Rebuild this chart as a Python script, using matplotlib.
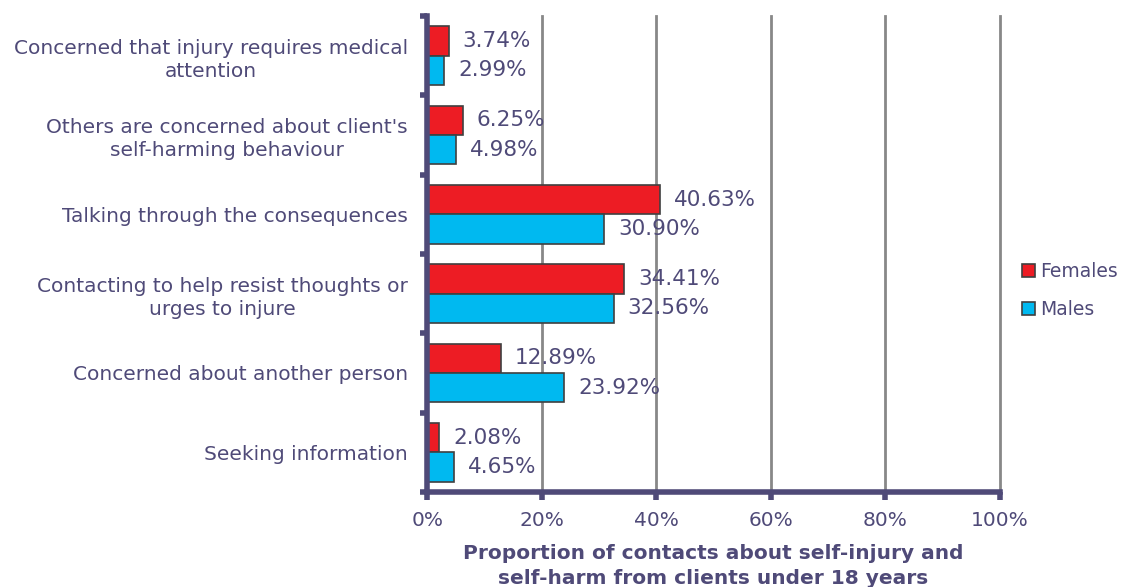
import matplotlib.pyplot as plt
import numpy as np

# Reasons for contact, top to bottom
categories = [
    "Concerned that injury requires medical\nattention",
    "Others are concerned about client's\nself-harming behaviour",
    "Talking through the consequences",
    "Contacting to help resist thoughts or\nurges to injure",
    "Concerned about another person",
    "Seeking information",
]
females = [3.74, 6.25, 40.63, 34.41, 12.89, 2.08]
males = [2.99, 4.98, 30.90, 32.56, 23.92, 4.65]
x_ticks = [0, 20, 40, 60, 80, 100]

TEXT = "#4F4A78"
RED = "#ED1C24"
BLUE = "#00B9F0"
EDGE = "#404040"

plt.rcParams["font.family"] = "DejaVu Sans"

fig = plt.figure(figsize=(11.27, 5.87), dpi=100)
ax = fig.add_axes([0.379, 0.162, 0.508, 0.811])

y = np.arange(len(categories))
h = 0.37
ax.barh(y - h / 2, females, height=h, color=RED, edgecolor=EDGE, linewidth=1.2,
        label="Females", zorder=3)
ax.barh(y + h / 2, males, height=h, color=BLUE, edgecolor=EDGE, linewidth=1.2,
        label="Males", zorder=3)

# value labels just past the end of each bar
for i, (f, m) in enumerate(zip(females, males)):
    ax.annotate(f"{f:.2f}%", (f, i - h / 2), xytext=(10, 0), textcoords="offset points",
                ha="left", va="center", fontsize=15.5, color=TEXT)
    ax.annotate(f"{m:.2f}%", (m, i + h / 2), xytext=(10, 0), textcoords="offset points",
                ha="left", va="center", fontsize=15.5, color=TEXT)

ax.set_xlim(0, 100)
ax.set_ylim(len(categories) - 0.5, -0.5)
ax.set_xticks(x_ticks)
ax.set_xticklabels([f"{t}%" for t in x_ticks], fontsize=14.5, color=TEXT)

# category labels sit between the tick marks at the group boundaries
ax.set_yticks(np.arange(len(categories) + 1) - 0.5)
ax.set_yticklabels([])
ax.set_yticks(y, minor=True)
ax.set_yticklabels(categories, minor=True, fontsize=14.5, color=TEXT,
                   multialignment="center", linespacing=1.3)
ax.tick_params(axis="y", which="minor", length=0, pad=14)
ax.tick_params(axis="y", which="major", length=5, width=4, color=TEXT, direction="out")
ax.tick_params(axis="x", length=6, width=4, color=TEXT, direction="out", pad=8)

ax.grid(axis="x", color="#888888", linewidth=2, zorder=0)
for gl in ax.get_xgridlines():
    gl.set_clip_on(False)
ax.set_axisbelow(True)
for side in ("top", "right"):
    ax.spines[side].set_visible(False)
for side in ("left", "bottom"):
    ax.spines[side].set_color(TEXT)
    ax.spines[side].set_linewidth(4)
    ax.spines[side].set_zorder(4)

ax.set_xlabel("Proportion of contacts about self-injury and\nself-harm from clients under 18 years",
              fontsize=14.5, fontweight="bold", color=TEXT, labelpad=10, linespacing=1.4)

leg = fig.legend(loc="center left", bbox_to_anchor=(0.892, 0.505), frameon=False,
                 fontsize=13.5, handlelength=0.7, handleheight=0.7, handletextpad=0.25,
                 labelspacing=1.05, labelcolor=TEXT)

fig.savefig("out.png", dpi=100)
